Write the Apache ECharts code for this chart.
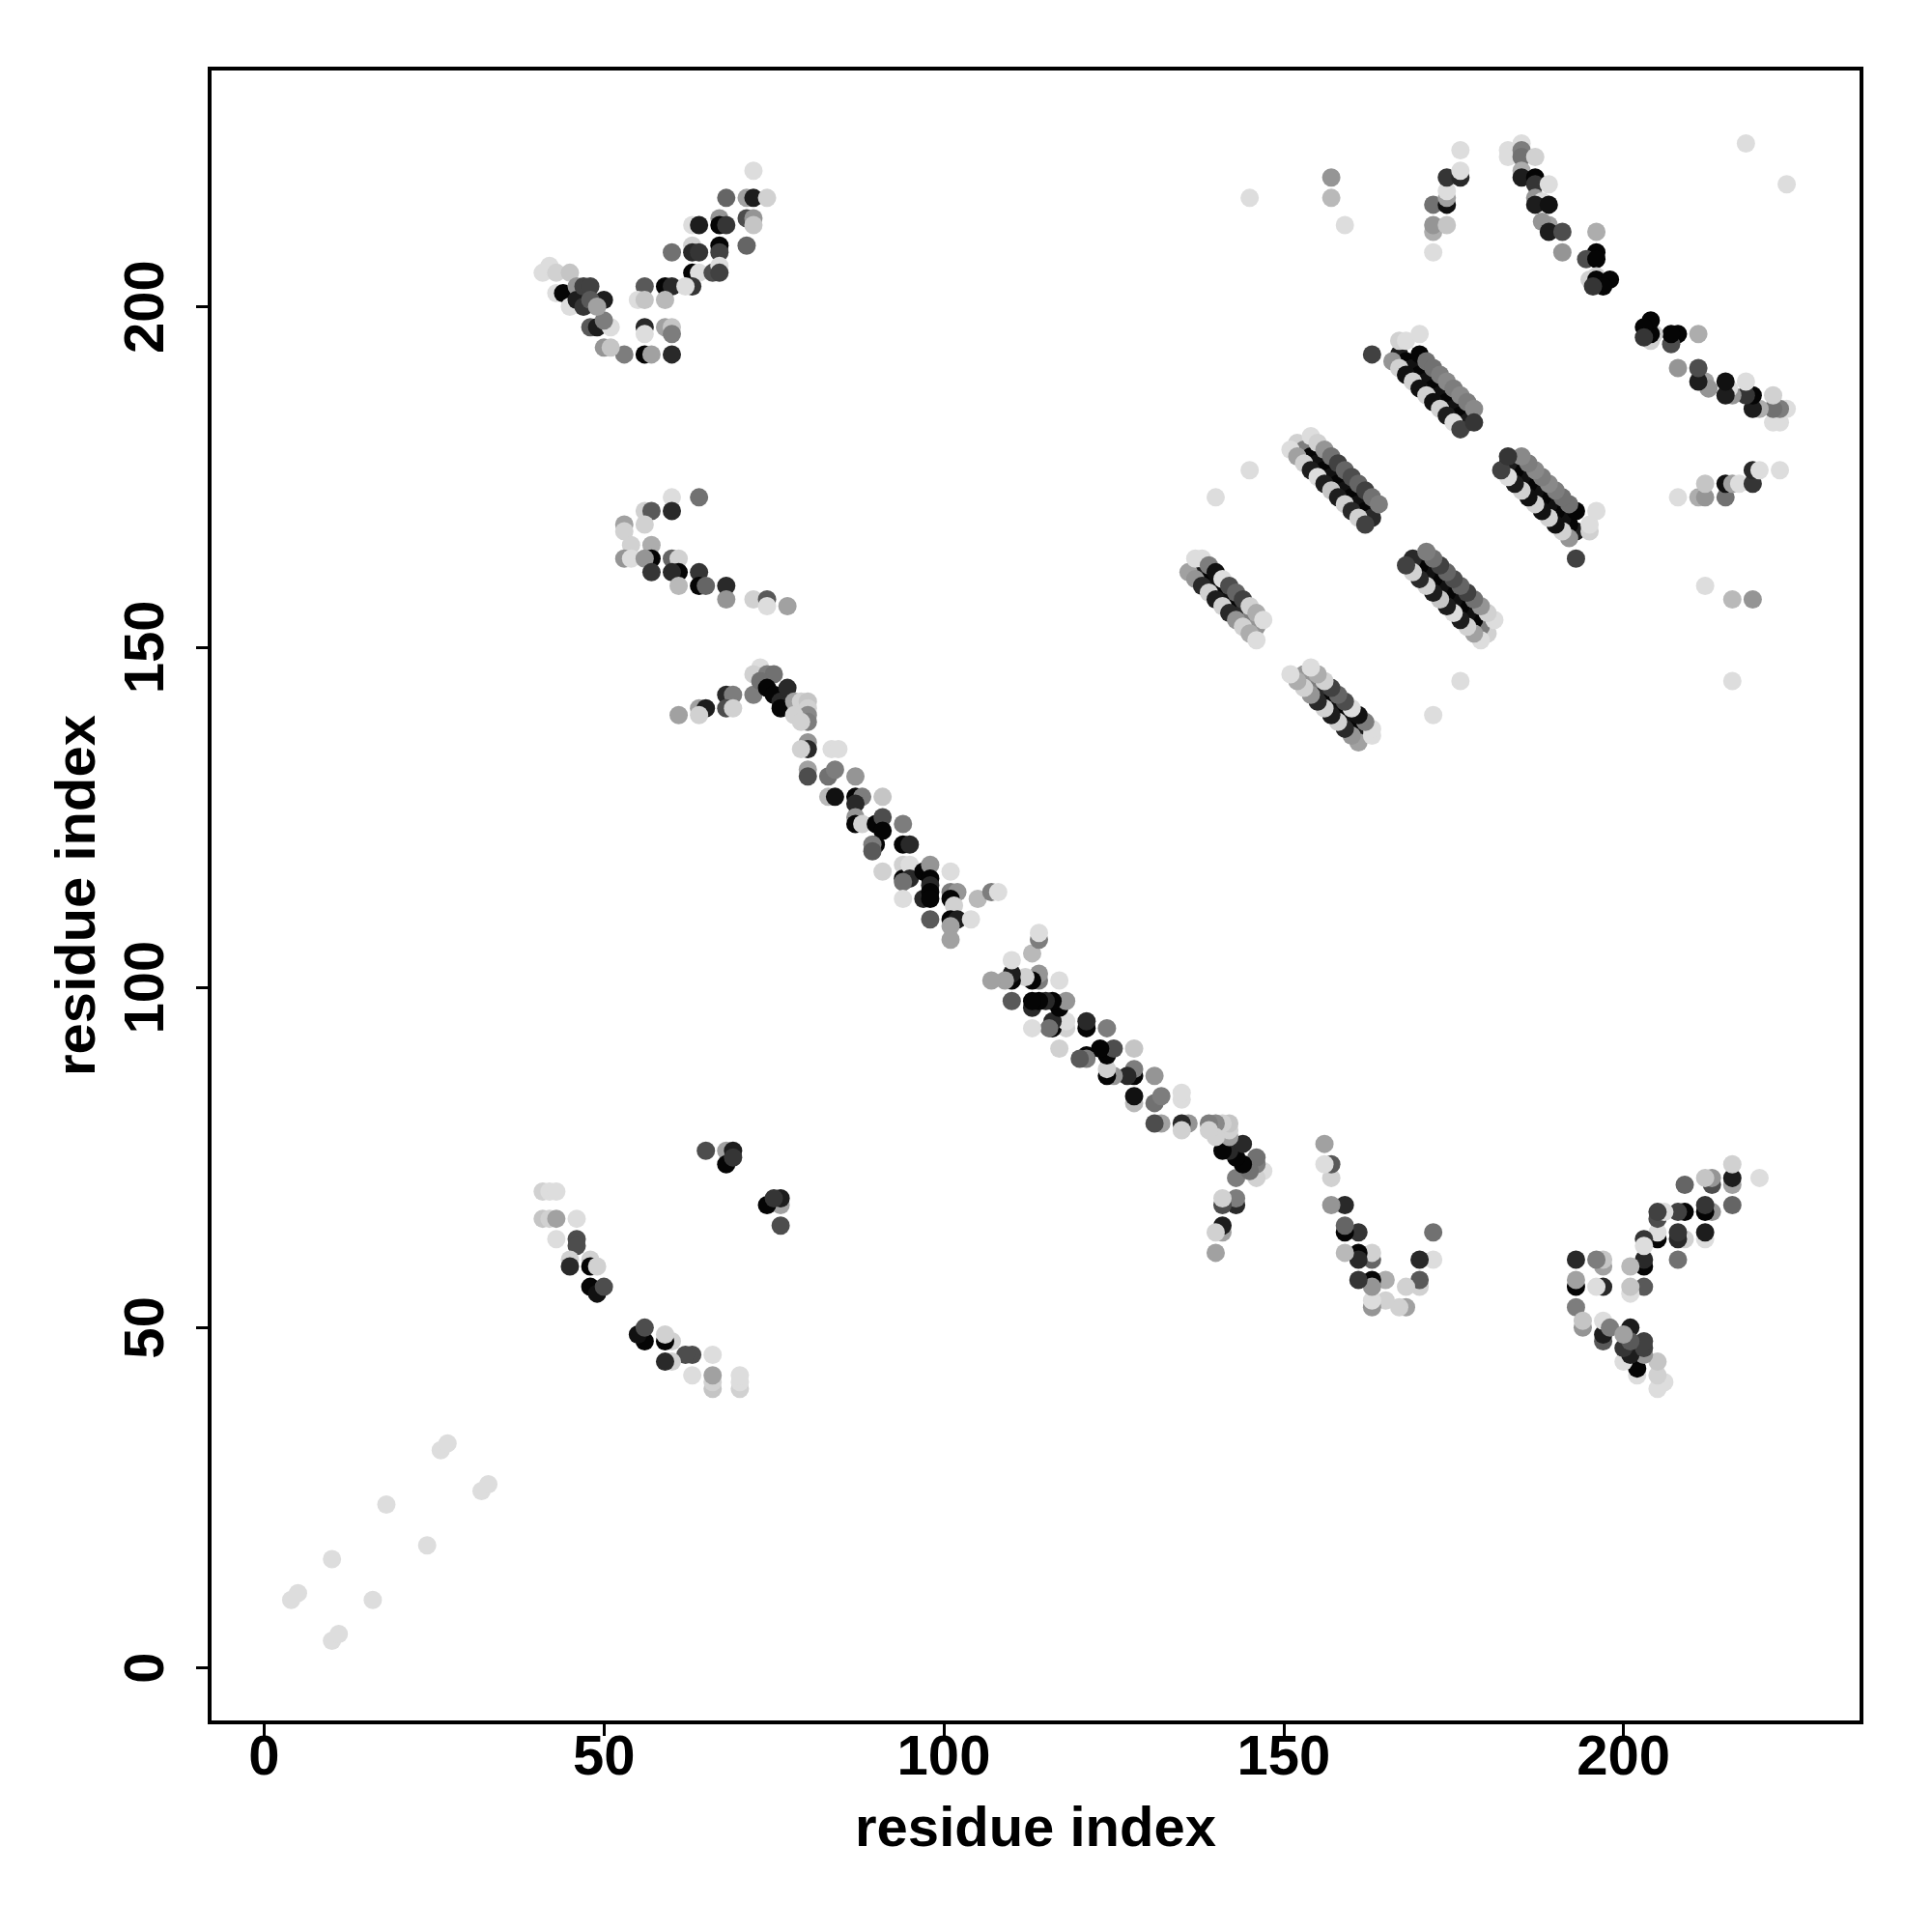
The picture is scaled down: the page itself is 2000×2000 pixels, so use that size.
<!DOCTYPE html>
<html><head><meta charset="utf-8">
<script src="https://cdn.jsdelivr.net/npm/echarts@6/dist/echarts.min.js"></script>
<style>html,body{margin:0;padding:0;background:#fff}#c{width:2000px;height:2000px}</style>
</head><body><div id="c"></div>
<script>
// contacts listed once as [residue i, residue j, darkness 0..1]; the map is symmetric
const sparseDiag = [[4,10,0.1],[5,11,0.1],[10,16,0.1],[18,24,0.1],[26,32,0.1],[27,33,0.1]];
const strandLow = [[41,70,0.15],[42,70,0.1],[43,70,0.1],[41,66,0.2],[42,66,0.15],[43,66,0.35],[46,66,0.1],
 [43,63,0.1],[46,63,0.7],[46,62,0.7],[45,60,0.15],[48,60,0.15],[45,59,0.85],[48,59,1.0],[49,59,0.15],
 [48,56,1.0],[49,55,0.95],[50,56,0.7],[65,76,0.7],[68,76,0.35],[69,76,0.9],[68,74,1.0],[69,75,0.8]];
const blockA = [[72,220,0.1],[68,216,0.6],[71,216,0.35],[72,216,0.9],[74,216,0.15],[63,212,0.1],[64,212,0.9],
 [67,213,0.4],[67,212,1.0],[68,212,0.8],[71,213,0.7],[72,213,0.4],[72,212,0.2],[71,209,0.6],[60,208,0.55],
 [63,209,0.15],[63,208,0.85],[64,208,0.8],[67,209,1.0],[67,208,0.75],[63,205,1.0],[64,205,0.1],[63,203,0.8],
 [66,205,0.7],[67,206,0.1],[67,205,0.75],[56,203,0.65],[59,203,1.0],[60,203,0.85],[62,203,0.1],[55,201,0.1],
 [56,201,0.2],[59,201,0.25],[56,197,0.85],[56,196,0.1],[59,197,0.35],[60,197,0.2],[60,196,0.5],[60,193,0.85],
 [56,193,1.0],[57,193,0.35],[53,193,0.5],[50,194,0.4],[51,194,0.2],[48,197,0.65],[49,197,0.9],[51,197,0.1],[50,198,0.5],
 [50,201,0.9],[41,205,0.1],[42,206,0.1],[43,205,0.15],[45,205,0.2],[43,202,0.1],[44,202,1.0],[45,200,0.1],
 [46,203,0.4],[46,201,0.9],[47,200,0.8],[47,203,0.75],[48,203,0.75],[48,201,0.65],[49,200,0.35]];
const blockB = [[60,172,0.1],[64,172,0.55],[56,170,0.15],[57,170,0.65],[60,170,0.85],[56,168,0.15],[53,168,0.35],
 [53,167,0.15],[54,165,0.15],[53,163,0.4],[54,163,0.1],[57,165,0.3],[57,163,1.0],[56,163,0.4],[57,161,0.8],
 [60,163,0.6],[61,163,0.15],[61,161,1.0],[60,161,0.85],[61,159,0.25],[64,161,0.8],[64,159,1.0],[65,159,0.6],
 [68,159,0.85],[68,157,0.4],[72,157,0.15],[74,157,0.65],[74,156,0.1],[77,156,0.35]];
const blockBand = [[61,140,0.35],[64,141,0.35],[65,141,0.9],[64,140,0.15],[68,143,0.85],[69,143,0.5],[68,141,0.7],
 [69,141,0.15],[72,143,0.5],[73,147,0.1],[72,146,0.15],[74,146,0.5],[75,146,0.55],[73,145,0.55],[74,144,1.0],
 [75,143,1.0],[76,142,0.85],[76,141,1.0],[77,144,0.85],[78,142,0.35],[79,142,0.15],[80,142,0.2],[80,141,0.15],
 [80,140,0.45],[80,139,0.5],[78,140,0.15],[79,139,0.15],[80,136,0.4],[80,135,0.85],[79,135,0.15],[83.5,135,0.1],
 [84.5,135,0.1],[80,132,0.35],[80,131,0.7],[83,131,0.55],[84,132,0.5],[87,131,0.4],[83,128,0.25],[84,128,0.95],
 [87,128,1.0],[88,128,0.5],[87,127,0.85],[91,128,0.2],[87,125,0.4],[87,124,1.0],[88,124,0.15],[90,124,1.0],
 [91,125,0.7],[91,123,1.0],[94,124,0.5],[90,121,1.0],[89.5,121,0.5],[89.5,120,0.65],[94,121,1.0],[95,121,0.85],
 [91,117,0.15],[94,118,0.15],[94,116,1.0],[95,118,0.1],[95,116,0.85],[94,115.5,0.55],[97,117,1.0],[98,118,0.4],
 [98,116,1.0],[98,115,0.85],[101,117,0.1],[94,113,0.1],[97,113,0.85],[98,114,1.0],[98,113,1.0],[101,114,0.5],
 [102,114,0.4],[101,113,1.0],[101.5,112,0.15],[105,113,0.25],[107,114,0.5],[108,114,0.1],[98,110,0.65],
 [101,110,1.0],[102,110,0.9],[104,110,0.1],[101,109,0.35],[101,107,0.35]];
const sheet1 = [[152,180,0.15],[153,179,0.5],[154,178,1.0],[155,177,0.95],[156,176,1.0],[157,175,0.95],[158,174,1.0],
 [159,173,0.95],[160,172,1.0],[161,171,0.95],[162,170,1.0],[163,169,0.85],
 [151,179,0.1],[152,178,0.35],[153,177,0.15],[154,176,0.9],[155,175,0.1],[156,174,0.9],[157,173,0.2],[158,172,0.9],
 [159,171,0.15],[160,170,0.85],[161,169,0.15],[162,168,0.75],
 [154,181,0.1],[155,180,0.15],[156,179,0.4],[157,178,0.55],[158,177,0.75],[159,176,0.6],[160,175,0.7],[161,174,0.6],
 [162,173,0.75],[163,172,0.55],[164,171,0.5]];
const sheet2 = [[138,161,0.9],[139,160,1.0],[140,159,0.95],[141,158,1.0],[142,157,0.95],[143,156,1.0],[144,155,0.85],
 [145,154,0.5],[146,153,0.4],
 [136,161,0.35],[137,160,0.4],[138,159,0.85],[139,158,0.15],[140,157,0.9],[141,156,0.15],[142,155,0.85],[143,154,0.4],
 [144,153,0.15],[145,152,0.3],[146,151,0.1],
 [137,163,0.1],[138,163,0.1],[139,162,0.5],[140,161,0.95],[141,160,0.1],[142,159,0.7],[143,158,0.6],[144,157,0.75],
 [145,156,0.15],[146,155,0.3],[147,154,0.1]];
const sheet3 = [[167,193,0.9],[168,192,1.0],[169,191,0.95],[170,190,1.0],[171,189,0.95],[172,188,1.0],[173,187,0.95],
 [174,186,1.0],[175,185,0.95],[176,184,1.0],[177,183,0.9],
 [166,192,0.4],[167,191,0.15],[168,190,0.95],[169,189,0.15],[170,188,0.95],[171,187,0.15],[172,186,0.95],[173,185,0.15],
 [174,184,0.9],[175,183,0.1],[176,182,0.75],
 [167,195,0.15],[168,195,0.1],[170,196,0.1],[170,193,1.0],[171,192,0.55],[172,191,0.55],[173,190,0.5],[174,189,0.45],
 [175,188,0.5],[176,187,0.45],[177,186,0.5],[178,185,0.45],[178,183,0.8]];
const blockTopRight = [[183,223,0.1],[183,222,0.1],[185,224,0.1],[185,223,0.5],[185,222,0.55],[187,222,0.15],[185,220,0.3],
 [185,219,0.9],[187,219,1.0],[187,218,0.8],[189,218,0.1],[187,216,0.4],[188,215.5,0.1],[187,215,0.9],[189,215,0.95],
 [189,212,0.35],[188,212.5,0.4],[189,211,0.9],[191,211,0.7],[191,208,0.4],[196,211,0.3],[196,208,1.0],[194.5,207,0.7],
 [196,207,1.0],[195,204,0.15],[196,204.5,0.15],[196,204,1.0],[198,204,1.0],[197,203,1.0],[195.5,203,0.8]];
const isolated = [[140,172,0.1],[145,176,0.1],[163,193,0.75],[145,216,0.1],[157,219,0.4],[157,216,0.25],[159,212,0.1],
 [218,224,0.1],[172,208,0.1],[172,211,0.3],[172,212,0.4],[174,212,0.2],[172,215,0.55],[174,215,0.95],[174,216,0.35],
 [174,217,0.1],[174,219,0.8],[176,219,0.85],[176,220,0.1],[176,223,0.1]];
const tickValues = [0, 50, 100, 150, 200];

const blocks = [sparseDiag, strandLow, blockA, blockB, blockBand, sheet1, sheet2, sheet3, blockTopRight, isolated];
const points = [];
blocks.forEach(b => b.forEach(([i, j, d]) => { points.push([i, j, d]); points.push([j, i, d]); }));

function shade(d) { const g = Math.max(0, Math.min(255, Math.round(245 - 240 * d))); return 'rgb(' + g + ',' + g + ',' + g + ')'; }

const font = "'Liberation Sans', Arial, Helvetica, sans-serif";
const chart = echarts.init(document.getElementById('c'), null, { renderer: 'canvas', width: 2000, height: 2000 });
const axisCommon = {
  type: 'value', min: -8, max: 235,
  axisLine: { show: true, onZero: false, lineStyle: { color: '#000', width: 4 } }, splitLine: { show: false },
  axisTick: { show: true, inside: false, length: 14, lineStyle: { color: '#000', width: 3 }, customValues: tickValues },
  nameLocation: 'middle',
  nameTextStyle: { fontFamily: font, fontWeight: 'bold', fontSize: 58, color: '#000' }
};
chart.setOption({
  animation: false,
  backgroundColor: '#ffffff',
  grid: { left: 217, top: 71, width: 1710, height: 1712, show: true, borderColor: '#000', borderWidth: 4, backgroundColor: 'transparent' },
  xAxis: Object.assign({}, axisCommon, {
    name: 'residue index', nameGap: 83,
    axisLabel: { customValues: tickValues, fontFamily: font, fontWeight: 'bold', fontSize: 58, color: '#000', margin: 9 }
  }),
  yAxis: Object.assign({}, axisCommon, {
    name: 'residue index', nameGap: 106,
    axisLabel: { customValues: tickValues, rotate: 90, fontFamily: font, fontWeight: 'bold', fontSize: 58, color: '#000', margin: 35 }
  }),
  series: [{
    type: 'scatter', symbol: 'circle', symbolSize: 19, data: points,
    itemStyle: { color: p => shade(p.value[2]), opacity: 1 },
    emphasis: { disabled: true }
  }]
});
</script>
</body></html>
